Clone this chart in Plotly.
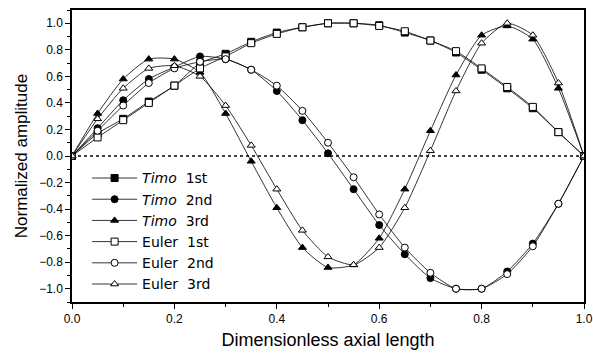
import plotly.graph_objects as go

x_vals = [0.0, 0.05, 0.10, 0.15, 0.20, 0.25, 0.30, 0.35, 0.40, 0.45, 0.50,
          0.55, 0.60, 0.65, 0.70, 0.75, 0.80, 0.85, 0.90, 0.95, 1.0]

timo_1st = [0, 0.17, 0.28, 0.41, 0.53, 0.70, 0.77, 0.86, 0.93, 0.97, 1.0,
            1.0, 0.985, 0.93, 0.87, 0.78, 0.65, 0.51, 0.36, 0.18, 0]
euler_1st = [0, 0.14, 0.27, 0.40, 0.53, 0.66, 0.75, 0.85, 0.92, 0.97, 1.0,
             1.0, 0.98, 0.94, 0.87, 0.79, 0.66, 0.52, 0.37, 0.18, 0]
timo_2nd = [0, 0.21, 0.42, 0.58, 0.67, 0.75, 0.73, 0.65, 0.49, 0.27, 0.02,
            -0.25, -0.52, -0.74, -0.92, -1.0, -1.0, -0.87, -0.66, -0.36, 0]
euler_2nd = [0, 0.19, 0.38, 0.55, 0.66, 0.71, 0.73, 0.65, 0.53, 0.34, 0.10,
             -0.16, -0.44, -0.69, -0.88, -1.0, -1.0, -0.89, -0.68, -0.36, 0]
timo_3rd = [0, 0.32, 0.58, 0.73, 0.73, 0.63, 0.32, -0.04, -0.39, -0.69, -0.84,
            -0.82, -0.62, -0.25, 0.19, 0.61, 0.91, 0.98, 0.88, 0.51, 0]
euler_3rd = [0, 0.28, 0.51, 0.66, 0.68, 0.60, 0.38, 0.08, -0.25, -0.56, -0.76,
             -0.82, -0.69, -0.39, 0.04, 0.49, 0.85, 1.0, 0.91, 0.55, 0]

series = [
    ("<i>Timo</i>  1st", timo_1st, "square", "black"),
    ("<i>Timo</i>  2nd", timo_2nd, "circle", "black"),
    ("<i>Timo</i>  3rd", timo_3rd, "triangle-up", "black"),
    ("Euler  1st", euler_1st, "square", "white"),
    ("Euler  2nd", euler_2nd, "circle", "white"),
    ("Euler  3rd", euler_3rd, "triangle-up", "white"),
]

fig = go.Figure()
for name, ys, sym, fill in series:
    fig.add_trace(go.Scatter(
        x=x_vals, y=ys, name=name, mode="lines+markers",
        line=dict(color="black", width=0.8, shape="spline", smoothing=0.6),
        marker=dict(symbol=sym, size=7, color=fill,
                    line=dict(color="black", width=1)),
    ))

fig.add_shape(type="line", xref="x", yref="y", x0=0, x1=1, y0=0, y1=0,
              line=dict(color="black", width=1.5, dash="dot"), layer="below")

axis_common = dict(
    showline=True, linecolor="black", linewidth=1.5, mirror=True,
    ticks="outside", ticklen=5, tickwidth=1, tickcolor="black",
    showgrid=False, zeroline=False, automargin=False,
    ticklabeloverflow="allow",
    tickfont=dict(family="Liberation Sans", size=12, color="black"),
)

fig.update_xaxes(range=[0, 1], dtick=0.2, tickformat=".1f",
                 minor=dict(dtick=0.1, ticks="outside", ticklen=3, tickcolor="black"),
                 title=dict(text="Dimensionless axial length",
                            font=dict(family="Liberation Sans", size=18, color="black"),
                            standoff=8),
                 **axis_common)
fig.update_yaxes(range=[-1.1, 1.1], dtick=0.2, tickformat=".1f",
                 minor=dict(dtick=0.1, ticks="outside", ticklen=3, tickcolor="black"),
                 title=dict(text="Normalized amplitude",
                            font=dict(family="Liberation Sans", size=17, color="black"),
                            standoff=7),
                 **axis_common)

fig.update_layout(
    width=593, height=354,
    margin=dict(l=72, r=9, t=10, b=52),
    plot_bgcolor="white", paper_bgcolor="white",
    font=dict(family="Liberation Sans", color="black"),
    legend=dict(x=0.0295, y=0.478, xanchor="left", yanchor="top",
                bgcolor="rgba(0,0,0,0)", itemwidth=45,
                font=dict(family="DejaVu Sans", size=14, color="black")),
)

fig.write_html("out.html", config={"displayModeBar": False},
               post_script="document.body.style.margin='0';document.body.style.padding='0';")
